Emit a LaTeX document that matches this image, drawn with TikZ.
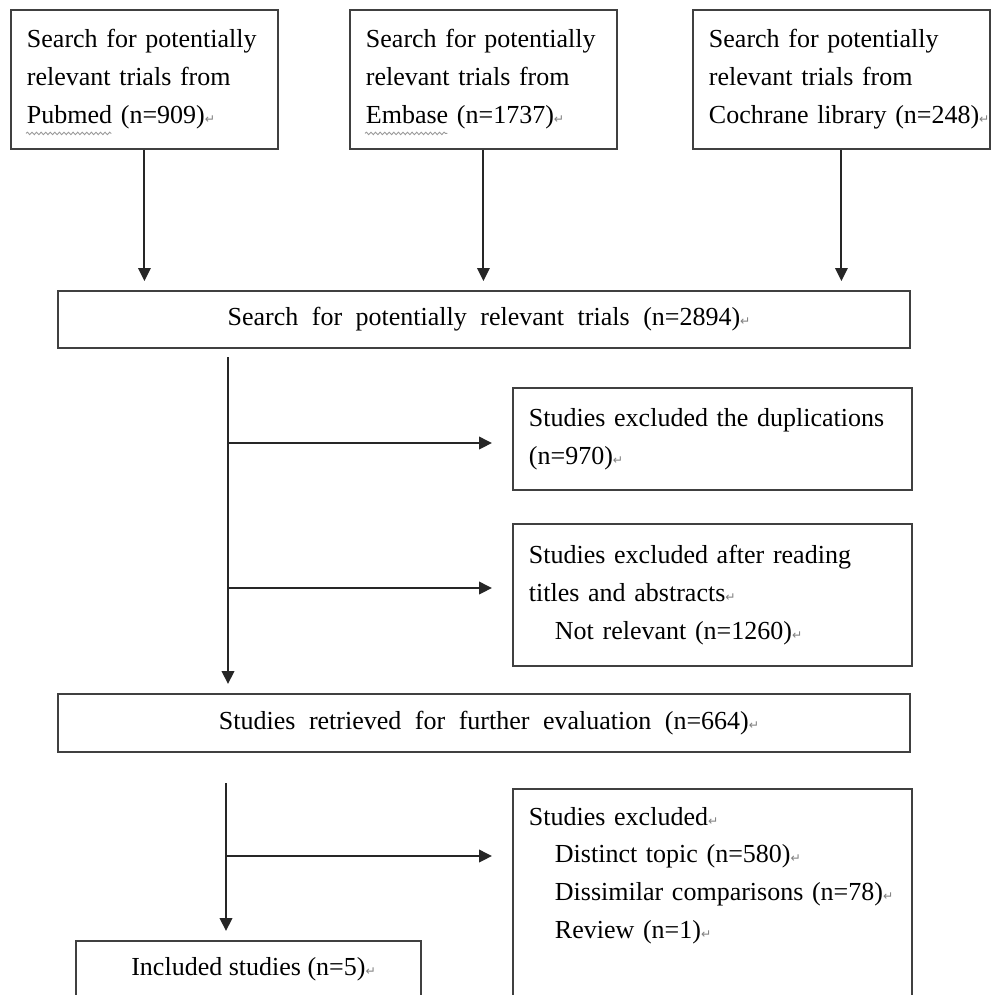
\documentclass[tikz,border=0pt]{standalone}
\usepackage{fontspec}
\setmainfont{Liberation Serif}
\newfontfamily\retfont{DejaVu Sans}
\usetikzlibrary{arrows.meta,decorations.pathmorphing}

% paragraph mark, as left in the word processor
\newcommand\ret{\rlap{\textcolor{black!50}{\retfont\fontsize{7}{7}\selectfont ↵}}}
\newcommand\widesp{\spaceskip=0.52em plus 0.1em\relax}

\begin{document}
\begin{tikzpicture}[x=0.02cm, y=-0.02cm,
  >={Triangle[length=0.26cm,width=0.25cm]},
  every node/.style={font=\fontsize{14.8}{21.6}\selectfont},
  box/.style={draw=black!75, line width=1.1pt, anchor=north west, inner xsep=0.32cm, inner ysep=0pt, align=left},
  cbox/.style={draw=black!75, line width=1.1pt, anchor=north west, inner sep=0pt, align=center},
  widespace/.style={execute at begin node=\widesp},
  edge/.style={->, line width=1.15pt, black!85, shorten >=0.18cm},
  wave/.style={black!40, line width=0.5pt, decorate, decoration={snake, amplitude=0.7pt, segment length=2.6pt}}]

\useasboundingbox (0,0) rectangle (991,995);

%%%%%%%%%%%%%%%%%%%%%%%%%%%%%%%%%%%%%%%%%%%%%%%%%%%%%%%%%%%%%%%%
% Database searches
%%%%%%%%%%%%%%%%%%%%%%%%%%%%%%%%%%%%%%%%%%%%%%%%%%%%%%%%%%%%%%%%

\node[box, text width=4.70cm, minimum width=5.34cm, minimum height=2.78cm] (s_PM) at (10,9) {Search for potentially\\ relevant trials from\\ Pubmed (n=909)\ret};

\node[box, text width=4.70cm, minimum width=5.34cm, minimum height=2.78cm] (s_EM) at (349,9) {Search for potentially\\ relevant trials from\\ Embase (n=1737)\ret};

\node[box, text width=5.30cm, minimum width=5.94cm, minimum height=2.78cm] (s_CL) at (692,9) {Search for potentially\\ relevant trials from\\ \mbox{Cochrane library (n=248)\ret}};

% spell-check marks
\draw[wave] ([xshift=0.32cm, yshift=0.33cm]s_PM.south west) -- ++(1.71cm,0);
\draw[wave] ([xshift=0.32cm, yshift=0.33cm]s_EM.south west) -- ++(1.65cm,0);

% Pooled records
\node[cbox, widespace, minimum width=17.04cm, minimum height=1.14cm] (s_ALL) at (57,290) {Search for potentially relevant trials (n=2894)\ret};

% Edges
\draw[edge] (s_PM.south) -- (s_PM.south |- s_ALL.north);
\draw[edge] (s_EM.south) -- (s_EM.south |- s_ALL.north);
\draw[edge] (s_CL.south) -- (s_CL.south |- s_ALL.north);

%%%%%%%%%%%%%%%%%%%%%%%%%%%%%%%%%%%%%%%%%%%%%%%%%%%%%%%%%%%%%%%%
% Screening
%%%%%%%%%%%%%%%%%%%%%%%%%%%%%%%%%%%%%%%%%%%%%%%%%%%%%%%%%%%%%%%%

\node[box, text width=7.34cm, minimum width=7.98cm, minimum height=2.04cm] (e_DUP) at (512,387) {Studies excluded the duplications\\ (n=970)\ret};

\node[box, text width=7.34cm, minimum width=7.98cm, minimum height=2.84cm] (e_TA) at (512,523) {Studies excluded after reading\\ titles and abstracts\ret\\ \hspace*{1em}Not relevant (n=1260)\ret};

\node[cbox, widespace, minimum width=17.04cm, minimum height=1.16cm] (s_RET) at (57,693) {Studies retrieved for further evaluation (n=664)\ret};

% Trunk and branches
\coordinate (t1) at (228,357);
\coordinate (b1) at (228,443);
\coordinate (b2) at (228,588);
\draw[edge] (t1) -- (t1 |- s_RET.north);
\draw[edge, shorten >=0.4cm] (b1) -- (b1 -| e_DUP.west);
\draw[edge, shorten >=0.4cm] (b2) -- (b2 -| e_TA.west);

%%%%%%%%%%%%%%%%%%%%%%%%%%%%%%%%%%%%%%%%%%%%%%%%%%%%%%%%%%%%%%%%
% Eligibility and inclusion
%%%%%%%%%%%%%%%%%%%%%%%%%%%%%%%%%%%%%%%%%%%%%%%%%%%%%%%%%%%%%%%%

\node[box, text width=7.34cm, minimum width=7.98cm, inner ysep=0.36cm] (e_EXC) at (512,788) {Studies excluded\ret\\ \hspace*{1em}Distinct topic (n=580)\ret\\ \hspace*{1em}Dissimilar comparisons (n=78)\ret\\ \hspace*{1em}Review (n=1)\ret\\ \mbox{}\\ \mbox{}};

\node[cbox, minimum width=6.90cm, minimum height=1.14cm] (s_INC) at (75,940) {Included studies (n=5)\ret};

% Trunk and branch
\coordinate (t2) at (226,783);
\coordinate (b3) at (226,856);
\draw[edge] (t2) -- (t2 |- s_INC.north);
\draw[edge, shorten >=0.4cm] (b3) -- (b3 -| e_EXC.west);

\end{tikzpicture}
\end{document}
